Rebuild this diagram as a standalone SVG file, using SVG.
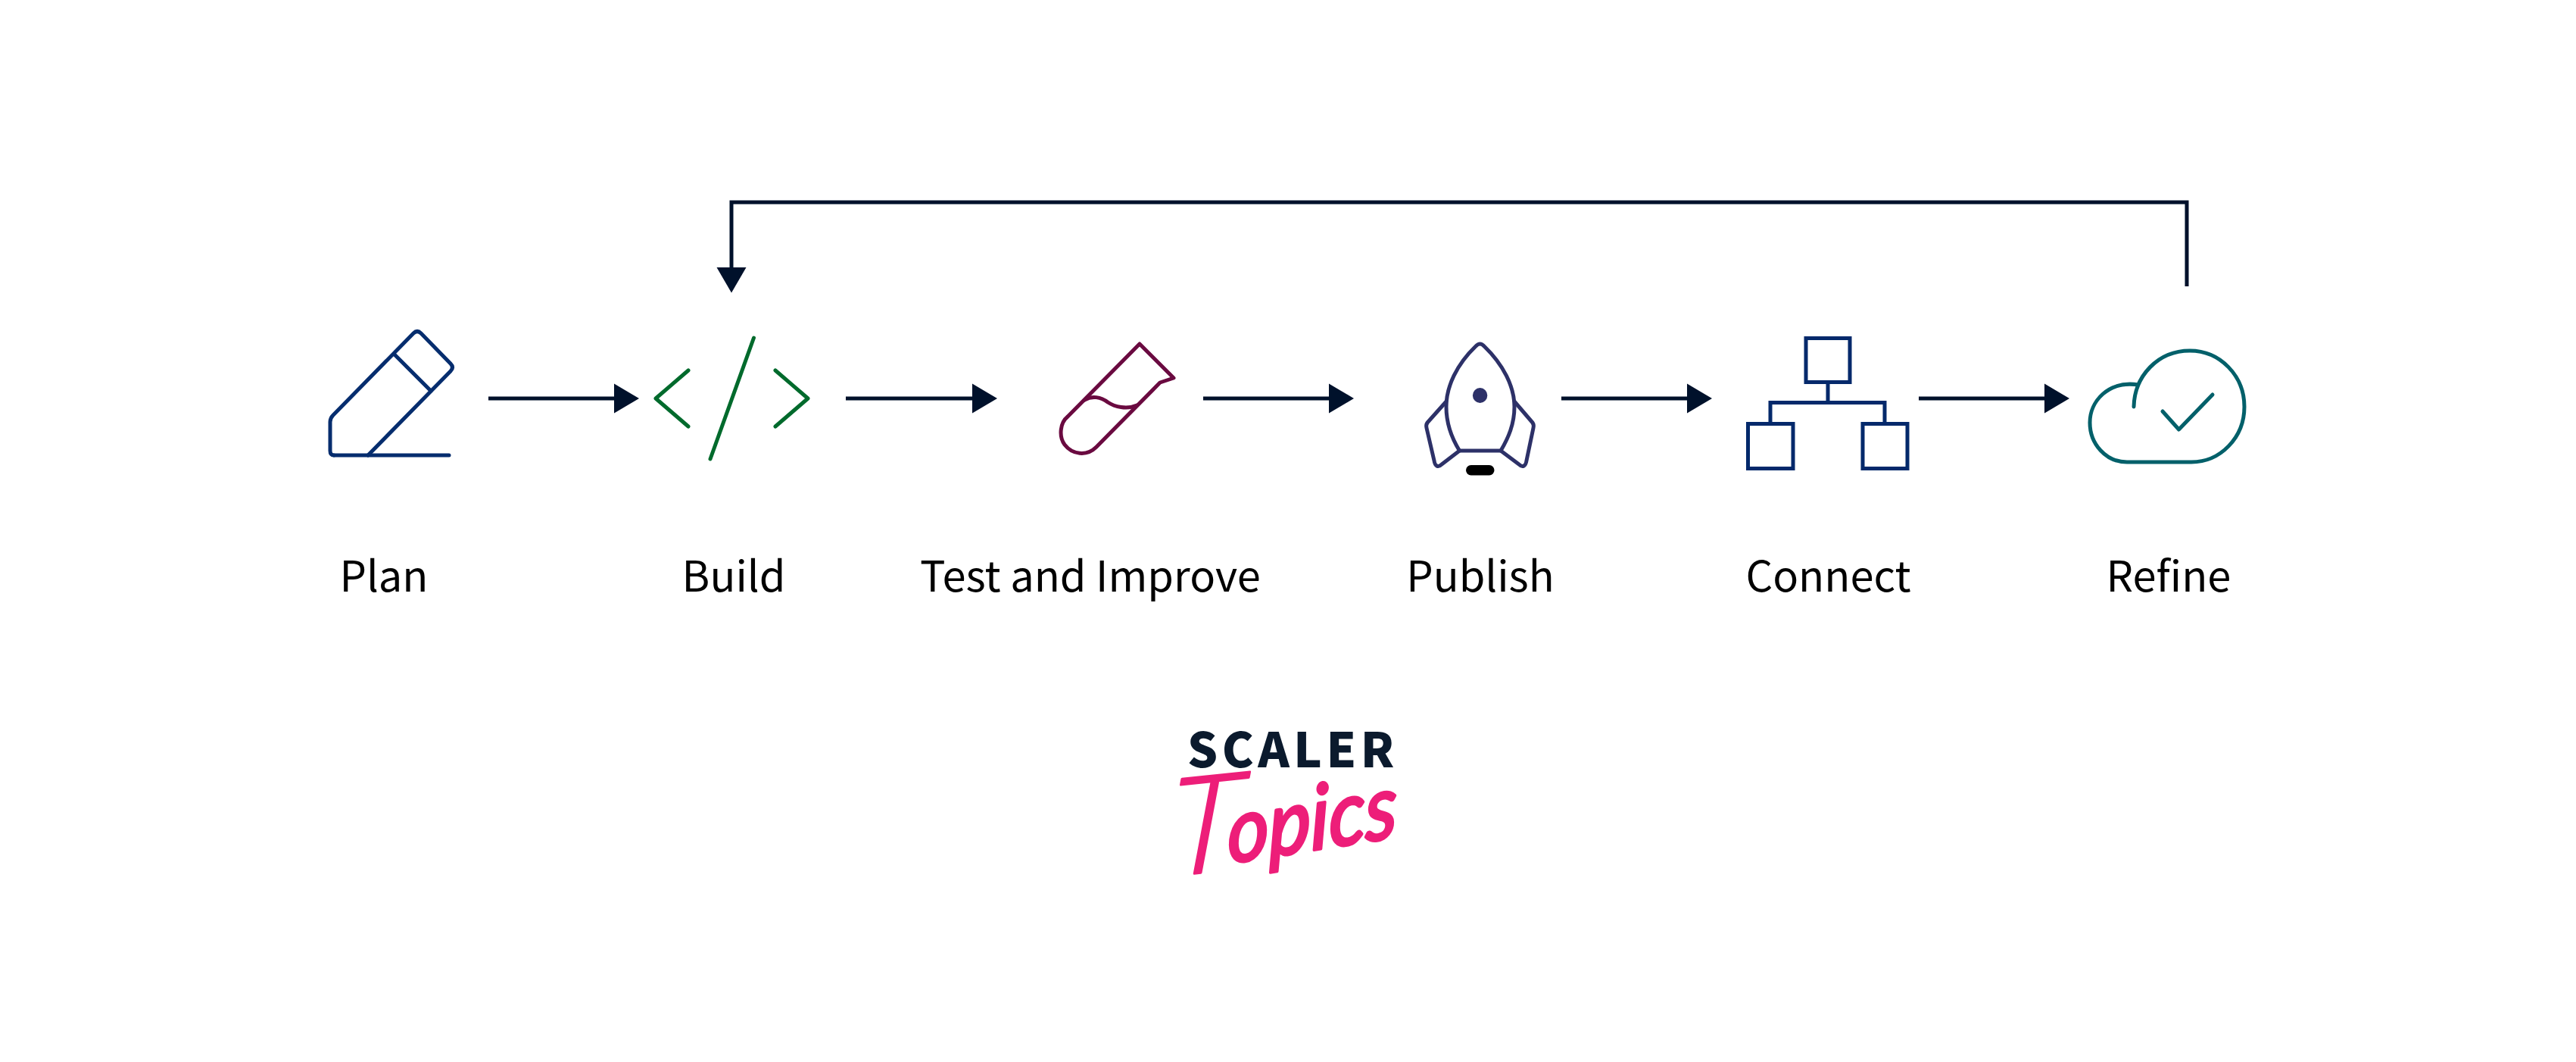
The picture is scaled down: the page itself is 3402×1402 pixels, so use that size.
<svg xmlns="http://www.w3.org/2000/svg" width="3402" height="1402" viewBox="0 0 3402 1402">
<style>
.i{fill:none;stroke-width:5;stroke-linecap:round;stroke-linejoin:round}
.l{font-family:"Noto Sans CJK SC","Noto Sans",sans-serif;font-size:56px;fill:#000;text-anchor:middle}
.c{fill:none;stroke:#00112b;stroke-width:5}
.s{font-family:"Noto Sans CJK SC","Noto Sans",sans-serif;font-weight:900;font-size:63px;fill:#0b1a2d;letter-spacing:5.500px}
.t{font-family:Lato,sans-serif;font-style:italic;fill:#ed1e79;stroke:#ed1e79;stroke-linejoin:round}
</style>
<defs>
<marker id="a" markerUnits="userSpaceOnUse" markerWidth="34" markerHeight="40" refX="0" refY="20" orient="auto"><path d="M0 .5L33 20L0 39.500Z" fill="#00112b"/></marker>
<marker id="b" markerUnits="userSpaceOnUse" markerWidth="34" markerHeight="40" refX="0" refY="20" orient="auto"><path d="M0 .5L33.500 20L0 39.500Z" fill="#00112b"/></marker>
</defs>
<rect width="3402" height="1402" fill="#fff"/>
<g id="connectors">
<path class="c" d="M645 526H811" marker-end="url(#a)"/>
<path class="c" d="M1117 526H1284" marker-end="url(#a)"/>
<path class="c" d="M1589 526H1755" marker-end="url(#a)"/>
<path class="c" d="M2062 526H2228" marker-end="url(#a)"/>
<path class="c" d="M2534 526H2700" marker-end="url(#a)"/>
<path class="c" d="M2888 378V267H966V353" marker-end="url(#b)"/>
</g>
<g id="plan">
<g class="i" stroke="#062d6e">
<path d="M441 601Q436 601 436 595V557Q436 552 440 548L546 440Q551 435 556 440L595 480Q600 485 595 490L486 601"/>
<path d="M441 601H593M521 468L569 516"/>
</g>
<text class="l" x="507" y="781">Plan</text>
</g>
<g id="build">
<g class="i" stroke="#006a2c">
<path d="M909 489L866 526L909 563M1024 489L1067 526L1024 563M995.500 446L938 606"/>
</g>
<text class="l" x="969" y="781">Build</text>
</g>
<g id="test">
<g class="i" stroke="#6a0a40">
<path d="M1505 454L1550 499L1532 505L1448 590C1435 603 1416 600 1406 587C1398 576 1400 558 1410 550Z"/>
<path d="M1432.600 528C1442 522 1454 524 1463 531C1472 537 1488 541 1501.500 535"/>
</g>
<text class="l" x="1440" y="781">Test and Improve</text>
</g>
<g id="publish">
<g class="i" stroke="#2d3168">
<path d="M1949 457Q1954.600 451 1960 457C1985 481 2000 510 2000 537C2000 560 1992 578 1982 595H1927.500C1917 578 1910 560 1910 537C1910 510 1924 481 1949 457Z"/>
<path d="M1910 530L1885 558Q1883 561 1884 565L1894 608C1895 615 1899 618 1904 613L1927.500 595M2000 530L2024 558Q2026 561 2025 565L2016 608C2015 615 2011 618 2006 613L1982 595"/>
</g>
<ellipse cx="1954.600" cy="522" rx="9.700" ry="10" fill="#2d3168"/>
<rect x="1936" y="614" width="37.500" height="13.500" rx="6.700" fill="#000"/>
<text class="l" x="1955" y="781">Publish</text>
</g>
<g id="connect">
<g class="i" stroke="#04296b" style="stroke-linejoin:miter;stroke-linecap:butt">
<rect x="2385" y="446.500" width="58" height="58"/>
<rect x="2308.500" y="559.500" width="59.500" height="59"/>
<rect x="2460" y="559.500" width="59" height="59"/>
<path d="M2414 505V531.500M2338 559V531.500H2489V559"/>
</g>
<text class="l" x="2414.500" y="781">Connect</text>
</g>
<g id="refine">
<g class="i" stroke="#03606a">
<path d="M2818 537C2819 496 2850 463 2892 463C2932 463 2964 496 2964 537C2964 578 2932 610 2894 610H2809C2781 610 2760 586 2760 558C2760 530 2784 502 2824 508"/>
<path d="M2856 543L2877.500 567L2922 521"/>
</g>
<text class="l" x="2864" y="781">Refine</text>
</g>
<g id="logo">
<text class="s" x="1568" y="1013">SCALER</text>
<text class="t" font-size="178" font-weight="300" stroke-width="3" transform="translate(1541 1157) rotate(-6) skewX(-10)">T</text>
<text class="t" font-size="118" stroke-width="4" transform="translate(1622 1140) rotate(-9) skewX(-8) scale(.9 1)">opics</text>
</g>
</svg>
